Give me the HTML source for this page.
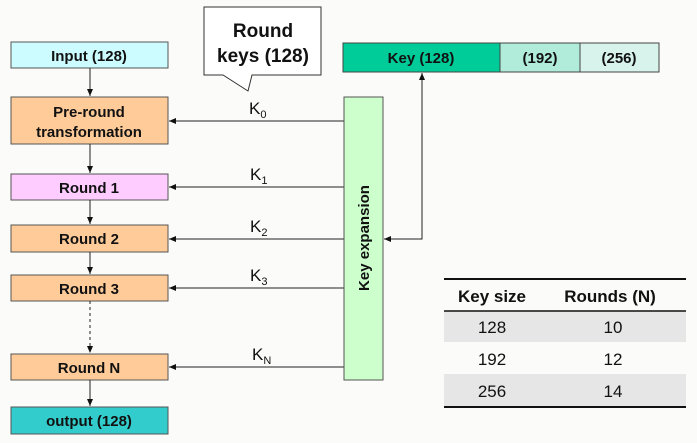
<!DOCTYPE html>
<html><head><style>
body{margin:0;background:#fbfbf9;}
svg{display:block;}
text{font-family:"Liberation Sans",sans-serif;}
.b{font-weight:bold;font-size:15px;text-anchor:middle;fill:#111;}
.k{font-size:17px;fill:#111;}
.t{font-size:17px;fill:#111;text-anchor:middle;}
</style></head><body>
<svg width="697" height="443" viewBox="0 0 697 443">
<defs><marker id="a" markerWidth="8" markerHeight="8" refX="7" refY="4" orient="auto" markerUnits="userSpaceOnUse"><path d="M0,1 L7,4 L0,7z" fill="#111"/></marker></defs>
<rect x="11" y="42" width="157" height="26" fill="#ccfcff" stroke="#555"/>
<text class="b" x="89" y="61">Input (128)</text>
<rect x="11" y="97" width="157" height="47" fill="#ffcc99" stroke="#555"/>
<text class="b" x="89" y="117">Pre-round</text><text class="b" x="89" y="137">transformation</text>
<rect x="11" y="174" width="157" height="26" fill="#ffccff" stroke="#555"/>
<text class="b" x="89" y="193">Round 1</text>
<rect x="11" y="225" width="157" height="27" fill="#ffcc99" stroke="#555"/>
<text class="b" x="89" y="244">Round 2</text>
<rect x="11" y="275" width="157" height="26" fill="#ffcc99" stroke="#555"/>
<text class="b" x="89" y="294">Round 3</text>
<rect x="11" y="354" width="157" height="26" fill="#ffcc99" stroke="#555"/>
<text class="b" x="89" y="373">Round N</text>
<rect x="11" y="407" width="157" height="27" fill="#33cccc" stroke="#555"/>
<text class="b" x="89" y="426">output (128)</text>
<g stroke="#222" stroke-width="1">
<line x1="90" y1="68" x2="90" y2="96" marker-end="url(#a)"/>
<line x1="90" y1="144" x2="90" y2="173" marker-end="url(#a)"/>
<line x1="90" y1="200" x2="90" y2="224" marker-end="url(#a)"/>
<line x1="90" y1="252" x2="90" y2="274" marker-end="url(#a)"/>
<line x1="90" y1="301" x2="90" y2="353" stroke-dasharray="3,3" marker-end="url(#a)"/>
<line x1="90" y1="380" x2="90" y2="406" marker-end="url(#a)"/>
<line x1="344" y1="121" x2="169" y2="121" marker-end="url(#a)"/>
<line x1="344" y1="187" x2="169" y2="187" marker-end="url(#a)"/>
<line x1="344" y1="239" x2="169" y2="239" marker-end="url(#a)"/>
<line x1="344" y1="288" x2="169" y2="288" marker-end="url(#a)"/>
<line x1="344" y1="367" x2="169" y2="367" marker-end="url(#a)"/>
<polyline points="422,73 422,239 384,239" fill="none" marker-end="url(#a)"/>
<line x1="422" y1="239" x2="422" y2="73" marker-end="url(#a)"/>
</g>
<text class="k" x="249" y="114">K<tspan font-size="11" dy="4">0</tspan></text>
<text class="k" x="250" y="180">K<tspan font-size="11" dy="4">1</tspan></text>
<text class="k" x="250" y="232">K<tspan font-size="11" dy="4">2</tspan></text>
<text class="k" x="250" y="281">K<tspan font-size="11" dy="4">3</tspan></text>
<text class="k" x="252" y="360">K<tspan font-size="11" dy="4">N</tspan></text>
<rect x="344" y="97" width="39" height="283" fill="#ccffcc" stroke="#555"/>
<text class="b" transform="translate(369,238) rotate(-90)">Key expansion</text>
<rect x="343" y="43" width="157" height="29" fill="#00cc99" stroke="#444"/>
<text class="b" x="421" y="63">Key (128)</text>
<rect x="500" y="43" width="80" height="29" fill="#b0ecd9" stroke="#444"/>
<text class="b" x="540" y="63">(192)</text>
<rect x="580" y="43" width="79" height="29" fill="#d8f3ec" stroke="#444"/>
<text class="b" x="619" y="63">(256)</text>
<path d="M204,7 H321 V75 H252 L248,91 L223,75 H204 Z" fill="#fff" stroke="#333"/>
<text class="b" x="263" y="37" style="font-size:19px">Round</text>
<text class="b" x="263" y="62" style="font-size:19px">keys (128)</text>
<rect x="444" y="311" width="242" height="31" fill="#e6e6e6"/>
<rect x="444" y="374" width="242" height="32" fill="#e6e6e6"/>
<line x1="444" y1="279" x2="686" y2="279" stroke="#111" stroke-width="2"/>
<line x1="444" y1="311" x2="686" y2="311" stroke="#111" stroke-width="1.5"/>
<line x1="444" y1="407" x2="686" y2="407" stroke="#111" stroke-width="2"/>
<text class="t" x="492" y="302" font-weight="bold">Key size</text>
<text class="t" x="610" y="302" font-weight="bold">Rounds (N)</text>
<text class="t" x="492" y="333">128</text><text class="t" x="613" y="333">10</text>
<text class="t" x="492" y="365">192</text><text class="t" x="613" y="365">12</text>
<text class="t" x="492" y="397">256</text><text class="t" x="613" y="397">14</text>
</svg>
</body></html>
